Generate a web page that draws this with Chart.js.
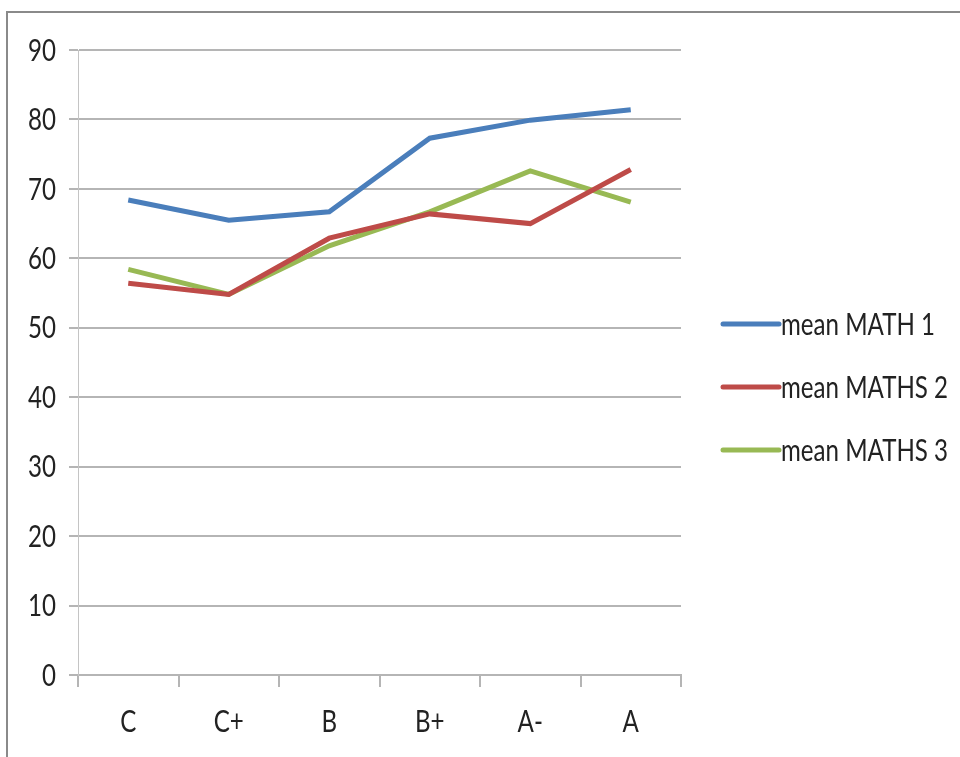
<!DOCTYPE html>
<html>
<head>
<meta charset="utf-8">
<script src="https://cdn.jsdelivr.net/npm/chart.js@4"></script>
<style>
  html, body { margin: 0; padding: 0; background: #fff; }
  #wrap { position: relative; width: 960px; height: 757px; overflow: hidden; }
  #frame { position: absolute; left: 6px; top: 11px; width: 980px; height: 780px;
           border-top: 2px solid #8a8a8a; border-left: 2px solid #8a8a8a; }
  canvas { position: absolute; left: 0; top: 0; }
</style>
</head>
<body>
<div id="wrap">
  <div id="frame"></div>
  <canvas id="c" width="960" height="757"></canvas>
</div>
<script>
// Grade bands on the x axis
const grades = ['C', 'C+', 'B', 'B+', 'A-', 'A'];

// Mean score per grade band for each maths paper
const math1 = [68.4, 65.5, 66.7, 77.3, 79.9, 81.4];
const maths2 = [56.4, 54.8, 62.9, 66.4, 65.0, 72.8];
const maths3 = [58.4, 54.8, 61.8, 66.7, 72.6, 68.1];

const seriesNames = ['mean MATH 1', 'mean MATHS 2', 'mean MATHS 3'];
const yTicks = [0, 10, 20, 30, 40, 50, 60, 70, 80, 90];

const FONT = "Lato, 'Liberation Sans', sans-serif";
const FONT_SIZE = 30;
const TEXT = '#222';
const GRID = '#b5b5b5';

// Text is set in a tall, condensed style: draw it squeezed horizontally.
function squeeze(ctx) {
  ctx.font = FONT_SIZE + 'px ' + FONT;
  return 154 / ctx.measureText('mean MATH 1').width;
}
function drawText(ctx, str, x, y, align, sx) {
  ctx.save();
  ctx.translate(x, y);
  ctx.scale(sx, 1);
  ctx.font = FONT_SIZE + 'px ' + FONT;
  ctx.fillStyle = TEXT;
  ctx.textAlign = align;
  ctx.textBaseline = 'middle';
  ctx.fillText(str, 0, 0);
  ctx.restore();
}

// Axis labels, placed through the chart's own scales
const axisLabels = {
  id: 'axisLabels',
  afterDraw(chart) {
    const ctx = chart.ctx;
    const sx = squeeze(ctx);
    const xs = chart.scales.x, ys = chart.scales.y;
    yTicks.forEach(v => drawText(ctx, String(v), 56, ys.getPixelForValue(v) + 1, 'right', sx));
    grades.forEach((g, i) => drawText(ctx, g, xs.getPixelForValue(i), 722, 'center', sx));
  }
};

// Legend drawn to the right of the plot: a short line swatch followed by the name
const sideLegend = {
  id: 'sideLegend',
  afterDraw(chart) {
    const ctx = chart.ctx;
    const sx = squeeze(ctx);
    const rows = [324, 387, 450];
    chart.data.datasets.forEach((ds, i) => {
      const y = rows[i];
      ctx.save();
      ctx.strokeStyle = ds.borderColor;
      ctx.lineWidth = 5;
      ctx.lineCap = 'round';
      ctx.beginPath();
      ctx.moveTo(723, y);
      ctx.lineTo(779, y);
      ctx.stroke();
      ctx.restore();
      drawText(ctx, ds.label, 781, y + 1, 'left', sx);
    });
  }
};

const mk = (label, data, color) => ({
  label, data,
  borderColor: color,
  backgroundColor: color,
  borderWidth: 5,
  pointRadius: 0,
  tension: 0,
  fill: false
});

new Chart(document.getElementById('c'), {
  type: 'line',
  data: {
    labels: grades,
    datasets: [
      mk(seriesNames[0], math1, '#4a7ebb'),
      mk(seriesNames[1], maths2, '#be4b48'),
      mk(seriesNames[2], maths3, '#98b954')
    ]
  },
  options: {
    responsive: false,
    animation: false,
    layout: { padding: { left: 0, right: 279, top: 50, bottom: 0 } },
    plugins: { legend: { display: false }, tooltip: { enabled: false } },
    scales: {
      x: {
        offset: true,
        grid: { offset: true, drawOnChartArea: false, drawTicks: true, tickLength: 12, color: GRID, lineWidth: 2 },
        border: { display: true, color: GRID, width: 2 },
        ticks: { display: false },
        afterFit(scale) { scale.height = 82; }
      },
      y: {
        min: 0, max: 90,
        afterBuildTicks(scale) { scale.ticks = yTicks.map(v => ({ value: v })); },
        grid: { color: GRID, lineWidth: 2, drawTicks: true, tickLength: 9 },
        border: { display: true, color: '#c4c4c4', width: 1 },
        ticks: { display: false },
        afterFit(scale) { scale.width = 78; }
      }
    }
  },
  plugins: [axisLabels, sideLegend]
});
</script>
</body>
</html>
